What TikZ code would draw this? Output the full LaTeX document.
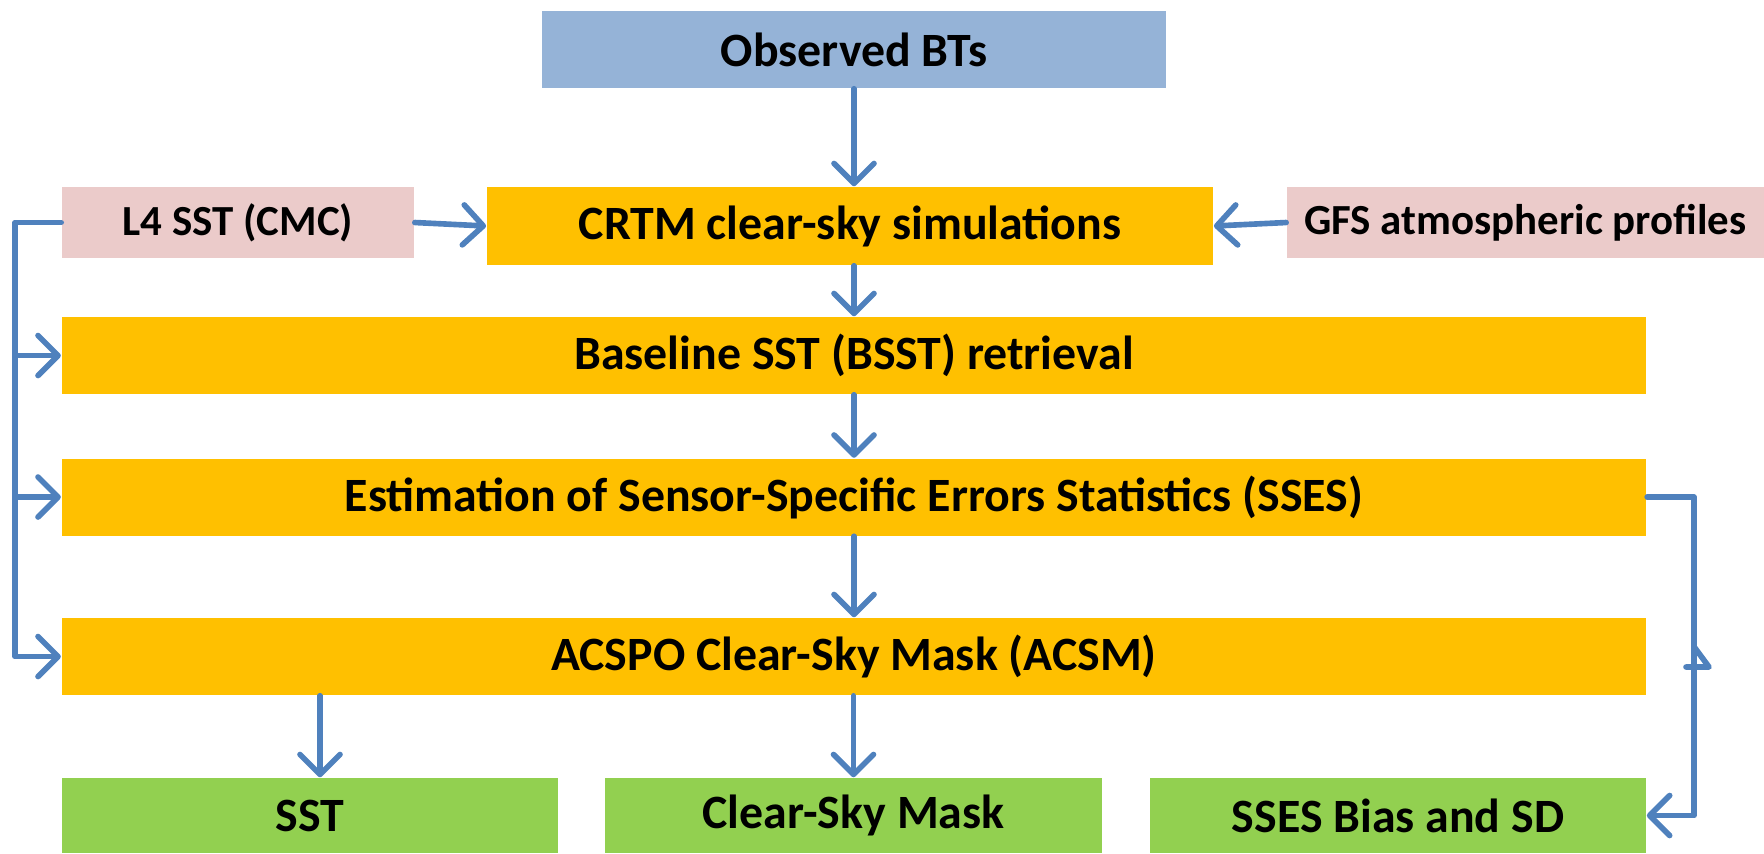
\documentclass[tikz,border=0pt]{standalone}
\usepackage{fontspec}
\setmainfont{Carlito}
\usetikzlibrary{arrows.meta,positioning,calc}
\definecolor{obsblue}{RGB}{149,179,215}
\definecolor{inpink}{RGB}{235,203,202}
\definecolor{procorange}{RGB}{255,192,0}
\definecolor{outgreen}{RGB}{146,208,80}
\definecolor{flowblue}{RGB}{79,129,189}

\tikzset{
  box/.style={rectangle, inner sep=0pt, font=\fontsize{13.6}{16}\selectfont\bfseries},
  obsbox/.style={box, fill=obsblue},
  inbox/.style={box, fill=inpink, font=\fontsize{12.2}{15}\selectfont\bfseries},
  procbox/.style={box, fill=procorange},
  outbox/.style={box, fill=outgreen},
  link/.style={draw=flowblue, line width=1.6pt, line cap=round, line join=round},
  flow/.style={link, -{Straight Barb[length=2mm,width=4mm,round]}}
}

\begin{document}
\begin{tikzpicture}[x=0.01cm,y=-0.01cm]
				\useasboundingbox (0,0) rectangle (1764,853);
				% Input layer
				\node[obsbox, minimum width=6.24cm, minimum height=0.77cm] (obs) at (854,49.5) {Observed BTs};
				\node[inbox, minimum width=3.52cm, minimum height=0.71cm] (l4) at (238,222.5) {L4 SST (CMC)};
				\node[procbox, minimum width=7.26cm, minimum height=0.78cm] (crtm) at (850,226) {CRTM clear-sky simulations};
				\node[inbox, minimum width=4.77cm, minimum height=0.71cm] (gfs) at (1525.5,222.5) {GFS atmospheric profiles};
				
				% Processing steps
				\node[procbox, minimum width=15.84cm, minimum height=0.77cm] (base) at (854,355.5) {Baseline SST (BSST) retrieval};
				\node[procbox, minimum width=15.84cm, minimum height=0.77cm] (sses) at (854,497) {Estimation of Sensor-Specific Errors Statistics (SSES)};
				\node[procbox, minimum width=15.84cm, minimum height=0.77cm] (acsm) at (854,656.5) {ACSPO Clear-Sky Mask (ACSM)};
				
				% Outputs
				\node[outbox, minimum width=4.96cm, minimum height=0.75cm] (sst) at (310,815.5) {SST};
				\node[outbox, minimum width=4.97cm, minimum height=0.75cm] (csm) at (853.5,815.5) {Clear-Sky Mask};
				\node[outbox, minimum width=4.96cm, minimum height=0.75cm] (bias) at (1398,815.5) {SSES Bias and SD};
				
				\coordinate (lbus) at (15,0);
				\coordinate (rbus) at (1694,0);
				
				% Connections
				\draw[flow] (obs.south) -- (obs.south |- crtm.north);
				\draw[flow] (l4.east) -- (crtm.west);
				\draw[flow] (gfs.west) -- (crtm.east);
				\draw[flow] (base.north |- crtm.south) -- (base.north);
				\draw[flow] (base.south) -- (sses.north);
				\draw[flow] (sses.south) -- (acsm.north);
				\draw[flow] ([xshift=1mm]sst.north |- acsm.south) -- ([xshift=1mm]sst.north);
				\draw[flow] (csm.north |- acsm.south) -- (csm.north);
				\draw[flow] (l4.west) -- (l4.west -| lbus) |- (base.west);
				\draw[flow] (base.west -| lbus) |- (sses.west);
				\draw[flow] (sses.west -| lbus) |- (acsm.west);
				\draw[flow] (sses.east) -- (sses.east -| rbus) |- (bias.east);
				\draw[link] (1686,667) -- (1709,667) -- (1695,648);
			\end{tikzpicture}
\end{document}
